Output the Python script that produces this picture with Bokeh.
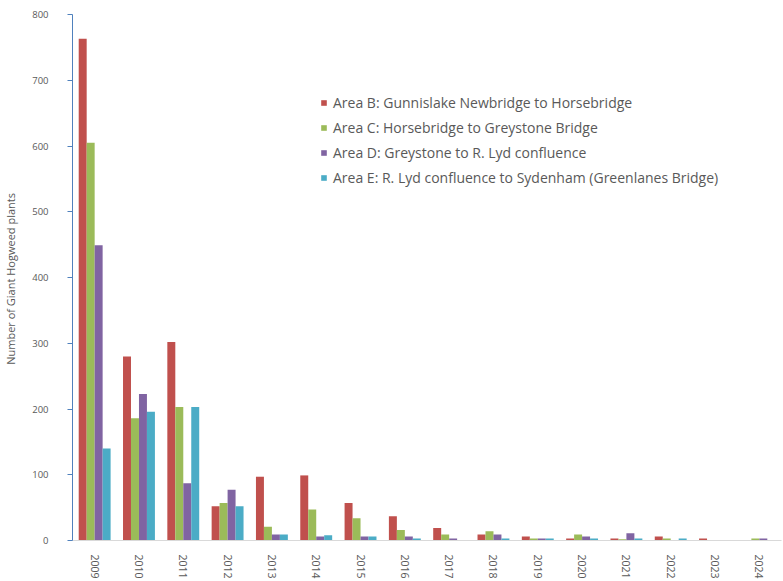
from bokeh.plotting import figure
from bokeh.models import ColumnDataSource, FactorRange, Range1d, Legend, LegendItem, SingleIntervalTicker
from bokeh.transform import dodge
from bokeh.embed import file_html
from bokeh.resources import INLINE

years = ["2009", "2010", "2011", "2012", "2013", "2014", "2015", "2016",
         "2017", "2018", "2019", "2020", "2021", "2022", "2023", "2024"]
area_b = [763, 280, 302, 52, 97, 99, 57, 37, 19, 9, 6, 3, 3, 6, 3, 0]
area_c = [605, 186, 203, 57, 21, 47, 34, 16, 9, 14, 3, 9, 2, 3, 0, 3]
area_d = [449, 223, 87, 77, 9, 6, 6, 6, 3, 9, 3, 6, 11, 0, 0, 3]
area_e = [140, 196, 203, 52, 9, 8, 6, 3, 0, 3, 3, 3, 3, 3, 0, 0]
series_names = [
    "Area B: Gunnislake Newbridge to Horsebridge",
    "Area C: Horsebridge to Greystone Bridge",
    "Area D: Greystone to R. Lyd confluence",
    "Area E: R. Lyd confluence to Sydenham (Greenlanes Bridge)",
]
colors = ["#C0504D", "#9BBB59", "#8064A2", "#4BACC6"]
y_label = "Number of  Giant Hogweed plants"

src = ColumnDataSource(dict(year=years, b=area_b, c=area_c, d=area_d, e=area_e))

p = figure(width=783, height=581, x_range=FactorRange(*years), y_range=Range1d(0, 800),
           output_backend="svg", toolbar_location=None)
p.min_border_left = 70
p.min_border_right = 2
p.min_border_top = 14
p.min_border_bottom = 36
p.outline_line_color = None
p.xgrid.grid_line_color = None
p.ygrid.grid_line_color = None
p.background_fill_color = "white"
p.border_fill_color = "white"

font = "Open Sans"
gray = "#595959"
p.yaxis.ticker = SingleIntervalTicker(interval=100)
p.yaxis.axis_line_color = "#4F81BD"
p.yaxis.major_tick_line_color = "#4F81BD"
p.yaxis.major_tick_out = 5
p.yaxis.major_tick_in = 0
p.yaxis.minor_tick_line_color = None
p.yaxis.major_label_standoff = 19
p.yaxis.major_label_text_font = font
p.yaxis.major_label_text_font_size = "9.5px"
p.yaxis.major_label_text_color = gray
p.yaxis.axis_label = y_label
p.yaxis.axis_label_text_font = font
p.yaxis.axis_label_text_font_size = "11px"
p.yaxis.axis_label_text_font_style = "normal"
p.yaxis.axis_label_text_color = gray
p.yaxis.axis_label_standoff = 11

p.xaxis.axis_line_color = "#D9D9D9"
p.xaxis.major_tick_line_color = None
p.xaxis.minor_tick_line_color = None
p.xaxis.major_label_orientation = "vertical"
p.xaxis.major_label_standoff = 8
p.xaxis.major_label_text_font = font
p.xaxis.major_label_text_font_size = "10.5px"
p.xaxis.major_label_text_color = gray

offsets = [-0.27, -0.09, 0.09, 0.27]
renderers = []
for col, off, color in zip(["b", "c", "d", "e"], offsets, colors):
    r = p.vbar(x=dodge("year", off, range=p.x_range), top=col, width=0.18, source=src,
               fill_color=color, line_color=None)
    renderers.append(r)

legend = Legend(items=[LegendItem(label=n, renderers=[r]) for n, r in zip(series_names, renderers)],
                location=(248, 353), padding=0, margin=0, spacing=5,
                glyph_width=7, glyph_height=7, label_height=20, label_standoff=6,
                label_text_font=font, label_text_font_size="14px", label_text_color=gray,
                border_line_color=None, background_fill_alpha=0)
p.add_layout(legend)

open("out.html", "w").write(file_html(p, INLINE))
